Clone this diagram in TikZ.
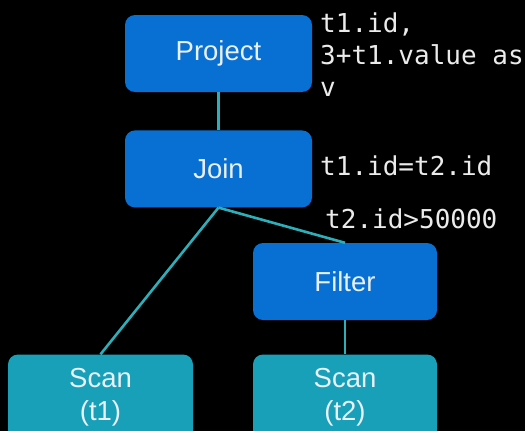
\documentclass[tikz,border=0pt]{standalone}
\usepackage{fontspec}
\setmainfont{Liberation Sans}
\newfontfamily\codefont{DejaVu Sans Mono}
\usetikzlibrary{positioning}
\definecolor{opblue}{RGB}{8,112,210}
\definecolor{scanteal}{RGB}{25,160,185}
\definecolor{edgeteal}{RGB}{45,175,185}
\definecolor{labelwhite}{RGB}{232,240,248}

\begin{document}
\begin{tikzpicture}[x=1pt,y=-1pt,
  opbox/.style={draw=none,rounded corners=10pt,fill=opblue,minimum width=187pt,minimum height=77pt,text=labelwhite,font=\fontsize{27.5}{33}\selectfont,align=center},
  scanbox/.style={opbox,fill=scanteal,minimum width=185pt,minimum height=85pt},
  code/.style={inner sep=0pt,anchor=north west,align=left,text=white!92!black,font=\codefont\fontsize{26}{32}\selectfont},
  edge/.style={edgeteal,line width=2.6pt}]
\fill[black] (0,0) rectangle (525,431);
\useasboundingbox (0,0) rectangle (525,431);
\clip (0,0) rectangle (525,431);

\node[opbox] (project) at (218.5,53.5) {Project};
\node[opbox,below=38pt of project] (join) {Join};
\node[opbox,minimum width=184pt] (filter) at (345,281.5) {Filter};
\node[scanbox] (scan1) at (100.5,397) {Scan\\(t1)};
\node[scanbox,minimum width=184pt] (scan2) at (345,397) {Scan\\(t2)};

\draw[edge] (project) -- (join);
\draw[edge] (join.south) -- (scan1.north);
\draw[edge] (join.south) -- (filter.north);
\draw[edge] (filter) -- (scan2);

\node[code] (projlabel) at (320,13) {t1.id,\\3+t1.value as\\v};
\node[code] (joinlabel) at (320,156) {t1.id=t2.id};
\node[code] (filterlabel) at (325,209) {t2.id>50000};
\end{tikzpicture}
\end{document}
